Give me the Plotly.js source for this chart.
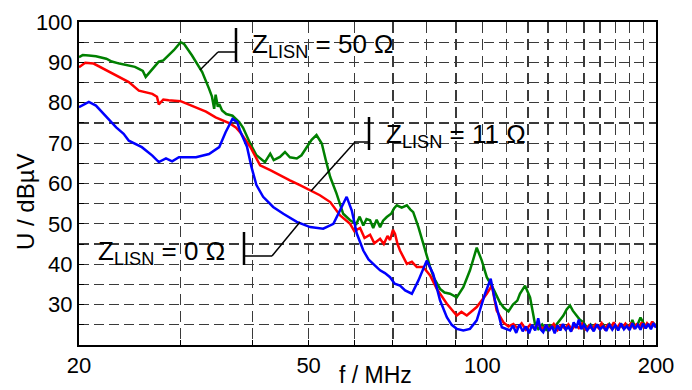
<!DOCTYPE html>
<html>
<head>
<meta charset="utf-8">
<script src="https://cdn.plot.ly/plotly-3.0.1.min.js"></script>
<style>
  html, body { margin: 0; padding: 0; background: #ffffff; }
  #chart { width: 692px; height: 390px; }
</style>
</head>
<body>
<div id="chart"></div>
<script>
// ---------------- data ----------------
const greenFreq = [20.0, 20.3, 20.8, 21.4, 22.3, 22.8, 23.5, 24.4, 25.0, 25.4, 25.8, 26.1, 26.5, 27.0, 27.5, 28.0, 28.6, 29.2, 30.0, 30.4, 31.4, 32.0, 32.7, 33.6, 34.0, 34.3, 34.5, 34.8, 35.0, 35.4, 36.0, 36.9, 37.9, 38.5, 39.6, 40.6, 41.2, 42.0, 42.9, 43.5, 44.6, 45.5, 46.4, 47.7, 48.6, 49.6, 50.6, 51.6, 52.7, 53.5, 54.5, 55.9, 57.4, 59.0, 60.5, 61.3, 62.2, 63.0, 63.9, 64.7, 65.6, 66.5, 67.3, 68.3, 69.5, 70.3, 71.1, 72.5, 74.0, 75.0, 75.9, 77.5, 79.6, 81.2, 82.5, 84.5, 86.0, 87.9, 90.3, 92.7, 95.2, 97.8, 99.8, 101.8, 104.5, 106.5, 107.3, 109.0, 111.0, 113.0, 115.0, 116.2, 118.6, 121.0, 122.6, 123.4, 125.0, 127.0, 129.0, 131.0, 133.0, 134.6, 136.0, 138.2, 140.0, 141.9, 143.5, 145.8, 147.5, 149.7, 152.0, 154.0, 156.0, 158.0, 160.0, 162.0, 164.0, 166.0, 168.0, 170.0, 172.0, 174.0, 176.0, 178.0, 180.0, 182.0, 184.0, 186.0, 188.0, 190.0, 192.0, 194.0, 196.0, 198.0, 200.0];
const greenVal  = [91.3, 91.8, 91.7, 91.5, 90.9, 90.2, 89.7, 89.3, 88.9, 88.4, 87.9, 86.4, 87.5, 88.8, 90.2, 90.5, 91.7, 93.0, 95.0, 94.6, 91.7, 89.8, 87.6, 83.5, 81.5, 78.5, 82.0, 79.0, 79.7, 78.1, 77.2, 76.8, 75.2, 73.8, 69.9, 67.0, 66.2, 65.3, 67.4, 65.8, 66.6, 67.8, 66.5, 66.2, 67.0, 69.1, 70.8, 72.0, 69.9, 66.0, 61.6, 57.5, 52.5, 50.9, 50.0, 51.8, 49.6, 51.2, 50.9, 49.0, 51.0, 49.2, 50.8, 51.7, 52.5, 53.8, 54.6, 54.0, 54.6, 53.6, 52.9, 49.2, 43.4, 39.3, 36.5, 33.9, 33.0, 32.7, 31.8, 34.3, 38.5, 44.1, 40.9, 36.8, 33.9, 31.5, 30.5, 29.2, 28.3, 30.0, 31.0, 32.7, 34.7, 31.8, 27.7, 25.2, 24.0, 25.1, 23.8, 24.9, 24.2, 25.2, 26.0, 27.3, 28.8, 29.8, 28.5, 27.3, 26.3, 25.6, 24.2, 25.1, 24.0, 24.9, 24.2, 25.0, 23.9, 25.2, 24.1, 24.8, 24.0, 25.1, 24.3, 25.0, 24.2, 26.2, 24.4, 25.2, 26.8, 25.6, 24.5, 25.1, 24.4, 25.4, 24.8];

const redFreq = [20.0, 20.5, 21.2, 22.3, 23.5, 24.4, 25.4, 26.1, 26.8, 27.3, 27.5, 28.0, 28.6, 30.0, 31.4, 33.2, 34.5, 35.9, 36.5, 37.4, 38.0, 39.6, 41.2, 42.9, 44.6, 46.4, 48.3, 50.3, 52.3, 54.5, 56.7, 59.0, 60.0, 61.4, 62.5, 63.9, 65.0, 66.5, 67.5, 68.5, 69.2, 70.0, 70.6, 71.3, 72.0, 74.0, 75.5, 77.0, 79.0, 81.2, 83.4, 86.8, 90.3, 92.0, 94.0, 97.8, 101.8, 103.9, 105.9, 108.8, 111.0, 113.2, 115.0, 117.0, 119.0, 121.0, 123.0, 125.0, 127.0, 129.0, 131.0, 133.0, 135.0, 137.0, 139.0, 141.0, 143.0, 145.0, 147.0, 149.0, 151.0, 153.0, 155.0, 157.0, 159.0, 161.0, 163.0, 165.0, 167.0, 169.0, 171.0, 173.0, 175.0, 177.0, 179.0, 181.0, 183.0, 185.0, 187.0, 189.0, 191.0, 193.0, 195.0, 197.0, 199.0, 200.0];
const redVal  = [88.8, 89.9, 89.7, 88.0, 86.4, 85.1, 83.0, 82.6, 82.2, 81.5, 79.6, 80.8, 80.6, 80.4, 79.3, 77.8, 76.4, 75.2, 74.9, 73.9, 72.8, 69.1, 64.5, 63.3, 62.0, 60.8, 59.6, 58.3, 57.1, 55.4, 52.1, 50.0, 48.2, 49.0, 46.5, 47.3, 45.2, 46.3, 45.0, 47.0, 46.0, 48.5, 47.5, 45.0, 43.4, 40.1, 40.6, 39.3, 39.3, 37.2, 33.9, 30.2, 27.3, 28.2, 27.3, 29.4, 32.7, 34.7, 28.5, 25.6, 24.6, 25.2, 24.2, 25.4, 23.8, 25.0, 24.1, 25.3, 23.9, 24.8, 24.0, 25.2, 23.7, 24.9, 24.1, 25.1, 23.8, 25.0, 24.2, 25.3, 23.9, 24.8, 24.0, 25.1, 24.2, 25.4, 24.0, 25.0, 24.3, 25.6, 24.1, 25.2, 24.4, 25.3, 24.2, 25.5, 24.3, 25.1, 24.5, 25.6, 24.2, 25.4, 24.6, 25.8, 24.5, 25.2];

const blueFreq = [20.0, 20.8, 21.4, 22.3, 23.2, 23.9, 24.4, 25.7, 26.8, 27.5, 28.3, 29.0, 29.8, 31.9, 33.6, 35.0, 35.9, 36.9, 37.6, 38.0, 39.1, 39.8, 40.6, 41.7, 43.4, 45.2, 47.7, 50.3, 53.0, 55.2, 56.7, 58.2, 59.4, 60.6, 62.2, 63.5, 64.7, 65.6, 66.5, 67.8, 69.2, 70.5, 72.0, 73.5, 75.5, 77.5, 80.1, 82.2, 84.5, 86.8, 88.5, 90.3, 92.7, 95.2, 97.8, 101.1, 103.4, 105.2, 108.1, 111.7, 113.0, 114.5, 116.0, 117.5, 119.0, 120.5, 122.0, 123.5, 125.0, 126.0, 127.5, 129.0, 130.5, 132.0, 133.5, 135.0, 136.5, 138.0, 139.5, 141.0, 142.5, 144.0, 145.5, 147.0, 148.5, 150.0, 152.0, 154.0, 156.0, 158.0, 160.0, 162.0, 164.0, 166.0, 168.0, 170.0, 172.0, 174.0, 176.0, 178.0, 180.0, 182.0, 184.0, 186.0, 188.0, 190.0, 192.0, 194.0, 196.0, 198.0, 200.0];
const blueVal  = [78.9, 80.2, 79.3, 76.4, 73.9, 72.3, 70.6, 69.0, 66.9, 65.3, 66.2, 65.5, 66.5, 66.5, 67.3, 69.0, 72.7, 76.0, 75.2, 73.2, 69.1, 64.1, 59.6, 56.7, 54.2, 52.5, 50.5, 49.2, 48.8, 50.0, 53.3, 56.7, 53.3, 47.6, 43.4, 41.2, 40.1, 39.3, 38.5, 37.8, 36.8, 35.2, 34.7, 33.5, 32.7, 36.0, 40.9, 37.6, 31.0, 26.9, 25.0, 24.0, 23.6, 24.0, 26.1, 32.7, 36.4, 31.0, 24.4, 23.6, 24.8, 23.0, 25.1, 23.4, 24.6, 22.9, 25.0, 23.6, 26.6, 24.0, 23.2, 25.0, 23.5, 24.7, 22.9, 24.9, 23.6, 25.2, 23.8, 24.5, 23.3, 25.6, 24.2, 26.3, 23.9, 25.0, 23.6, 24.8, 23.4, 25.1, 23.9, 24.6, 23.5, 25.2, 23.8, 24.9, 23.6, 25.3, 23.9, 24.7, 23.7, 25.4, 24.0, 25.0, 23.8, 25.3, 24.1, 25.2, 23.9, 25.4, 24.3];

const xTickVals = [20, 30, 40, 50, 60, 70, 80, 90, 100, 110, 120, 130, 140, 150, 160, 170, 180, 190, 200];
const xTickText = ['20', '', '', '50', '', '', '', '', '100', '', '', '', '', '', '', '', '', '', '200'];
const yTickVals = [25, 30, 35, 40, 45, 50, 55, 60, 65, 70, 75, 80, 85, 90, 95, 100];
const yTickText = ['', '30', '', '40', '', '50', '', '60', '', '70', '', '80', '', '90', '', '100'];

const labels = ['Z<sub>LISN</sub> = 50 Ω', 'Z<sub>LISN</sub> = 11 Ω', 'Z<sub>LISN</sub> = 0 Ω'];
const xTitle = 'f / MHz';
const yTitle = 'U / dBµV';

// ---------------- layout helpers (pixel -> paper) ----------------
const L = 79, R = 656, T = 22, B = 345;
const px = x => (x - L) / (R - L);
const py = y => (B - y) / (B - T);
const FONT = 'Liberation Sans, Arial, Helvetica, sans-serif';

function trace(x, y, color) {
  return { x: x, y: y, type: 'scatter', mode: 'lines',
           line: { color: color, width: 2.5 }, hoverinfo: 'skip' };
}
const data = [
  trace(greenFreq, greenVal, 'rgb(0,128,0)'),
  trace(redFreq, redVal, 'rgb(255,0,0)'),
  trace(blueFreq, blueVal, 'rgb(0,0,255)')
];

function seg(x0, y0, x1, y1, w) {
  return { type: 'line', xref: 'paper', yref: 'paper',
           x0: px(x0), y0: py(y0), x1: px(x1), y1: py(y1),
           line: { color: 'black', width: w } };
}
const shapes = [
  // 50 ohm leader
  seg(236, 28, 236, 62, 2.5), seg(218, 52, 236, 52, 1.5), seg(218, 52, 200, 70, 1.5),
  // 11 ohm leader
  seg(369, 117, 369, 150, 2.5), seg(355, 142, 369, 142, 1.5), seg(355, 142, 311, 191, 1.5),
  // 0 ohm leader
  seg(244, 232, 244, 265, 2.5), seg(244, 256, 272, 256, 1.5), seg(272, 256, 300, 222, 1.5)
];

function label(text, x, y) {
  return { text: text, xref: 'paper', yref: 'paper', x: px(x), y: py(y),
           xanchor: 'left', yanchor: 'middle', showarrow: false,
           font: { family: FONT, size: 26, color: 'black' } };
}
const annotations = [
  label(labels[0], 250, 45),
  label(labels[1], 384, 135),
  label(labels[2], 96, 252),
  { text: xTitle, xref: 'paper', yref: 'paper', x: px(375), y: py(375),
    xanchor: 'center', yanchor: 'middle', showarrow: false,
    font: { family: FONT, size: 23, color: 'black' } },
  { text: yTitle, xref: 'paper', yref: 'paper', x: px(25), y: py(202),
    xanchor: 'center', yanchor: 'middle', textangle: -90, showarrow: false,
    font: { family: FONT, size: 24, color: 'black' } }
];

const gridStyle = { gridcolor: '#3a3a3a', gridwidth: 1.2 };

const layout = {
  width: 692, height: 390,
  margin: { l: L, r: 692 - R, t: T, b: 390 - B, pad: 0 },
  paper_bgcolor: 'white', plot_bgcolor: 'white',
  showlegend: false,
  hovermode: false,
  font: { family: FONT, color: 'black' },
  xaxis: Object.assign({
    type: 'log', range: [Math.log10(20), Math.log10(200)],
    tickmode: 'array', tickvals: xTickVals, ticktext: xTickText,
    showgrid: true, griddash: '11px,6px',
    showline: true, mirror: true, linecolor: 'black', linewidth: 2,
    ticks: 'inside', ticklen: 5, tickcolor: 'black', tickwidth: 1,
    tickfont: { family: FONT, size: 22, color: 'black' },
    zeroline: false, fixedrange: true
  }, gridStyle),
  yaxis: Object.assign({
    range: [20, 100],
    tickmode: 'array', tickvals: yTickVals, ticktext: yTickText,
    showgrid: true, griddash: '10px,5px',
    showline: true, mirror: true, linecolor: 'black', linewidth: 2,
    ticks: 'inside', ticklen: 5, tickcolor: 'black', tickwidth: 1,
    tickfont: { family: FONT, size: 22, color: 'black' },
    zeroline: false, fixedrange: true
  }, gridStyle),
  shapes: shapes,
  annotations: annotations
};

Plotly.newPlot('chart', data, layout, { staticPlot: true, displayModeBar: false });
</script>
</body>
</html>
